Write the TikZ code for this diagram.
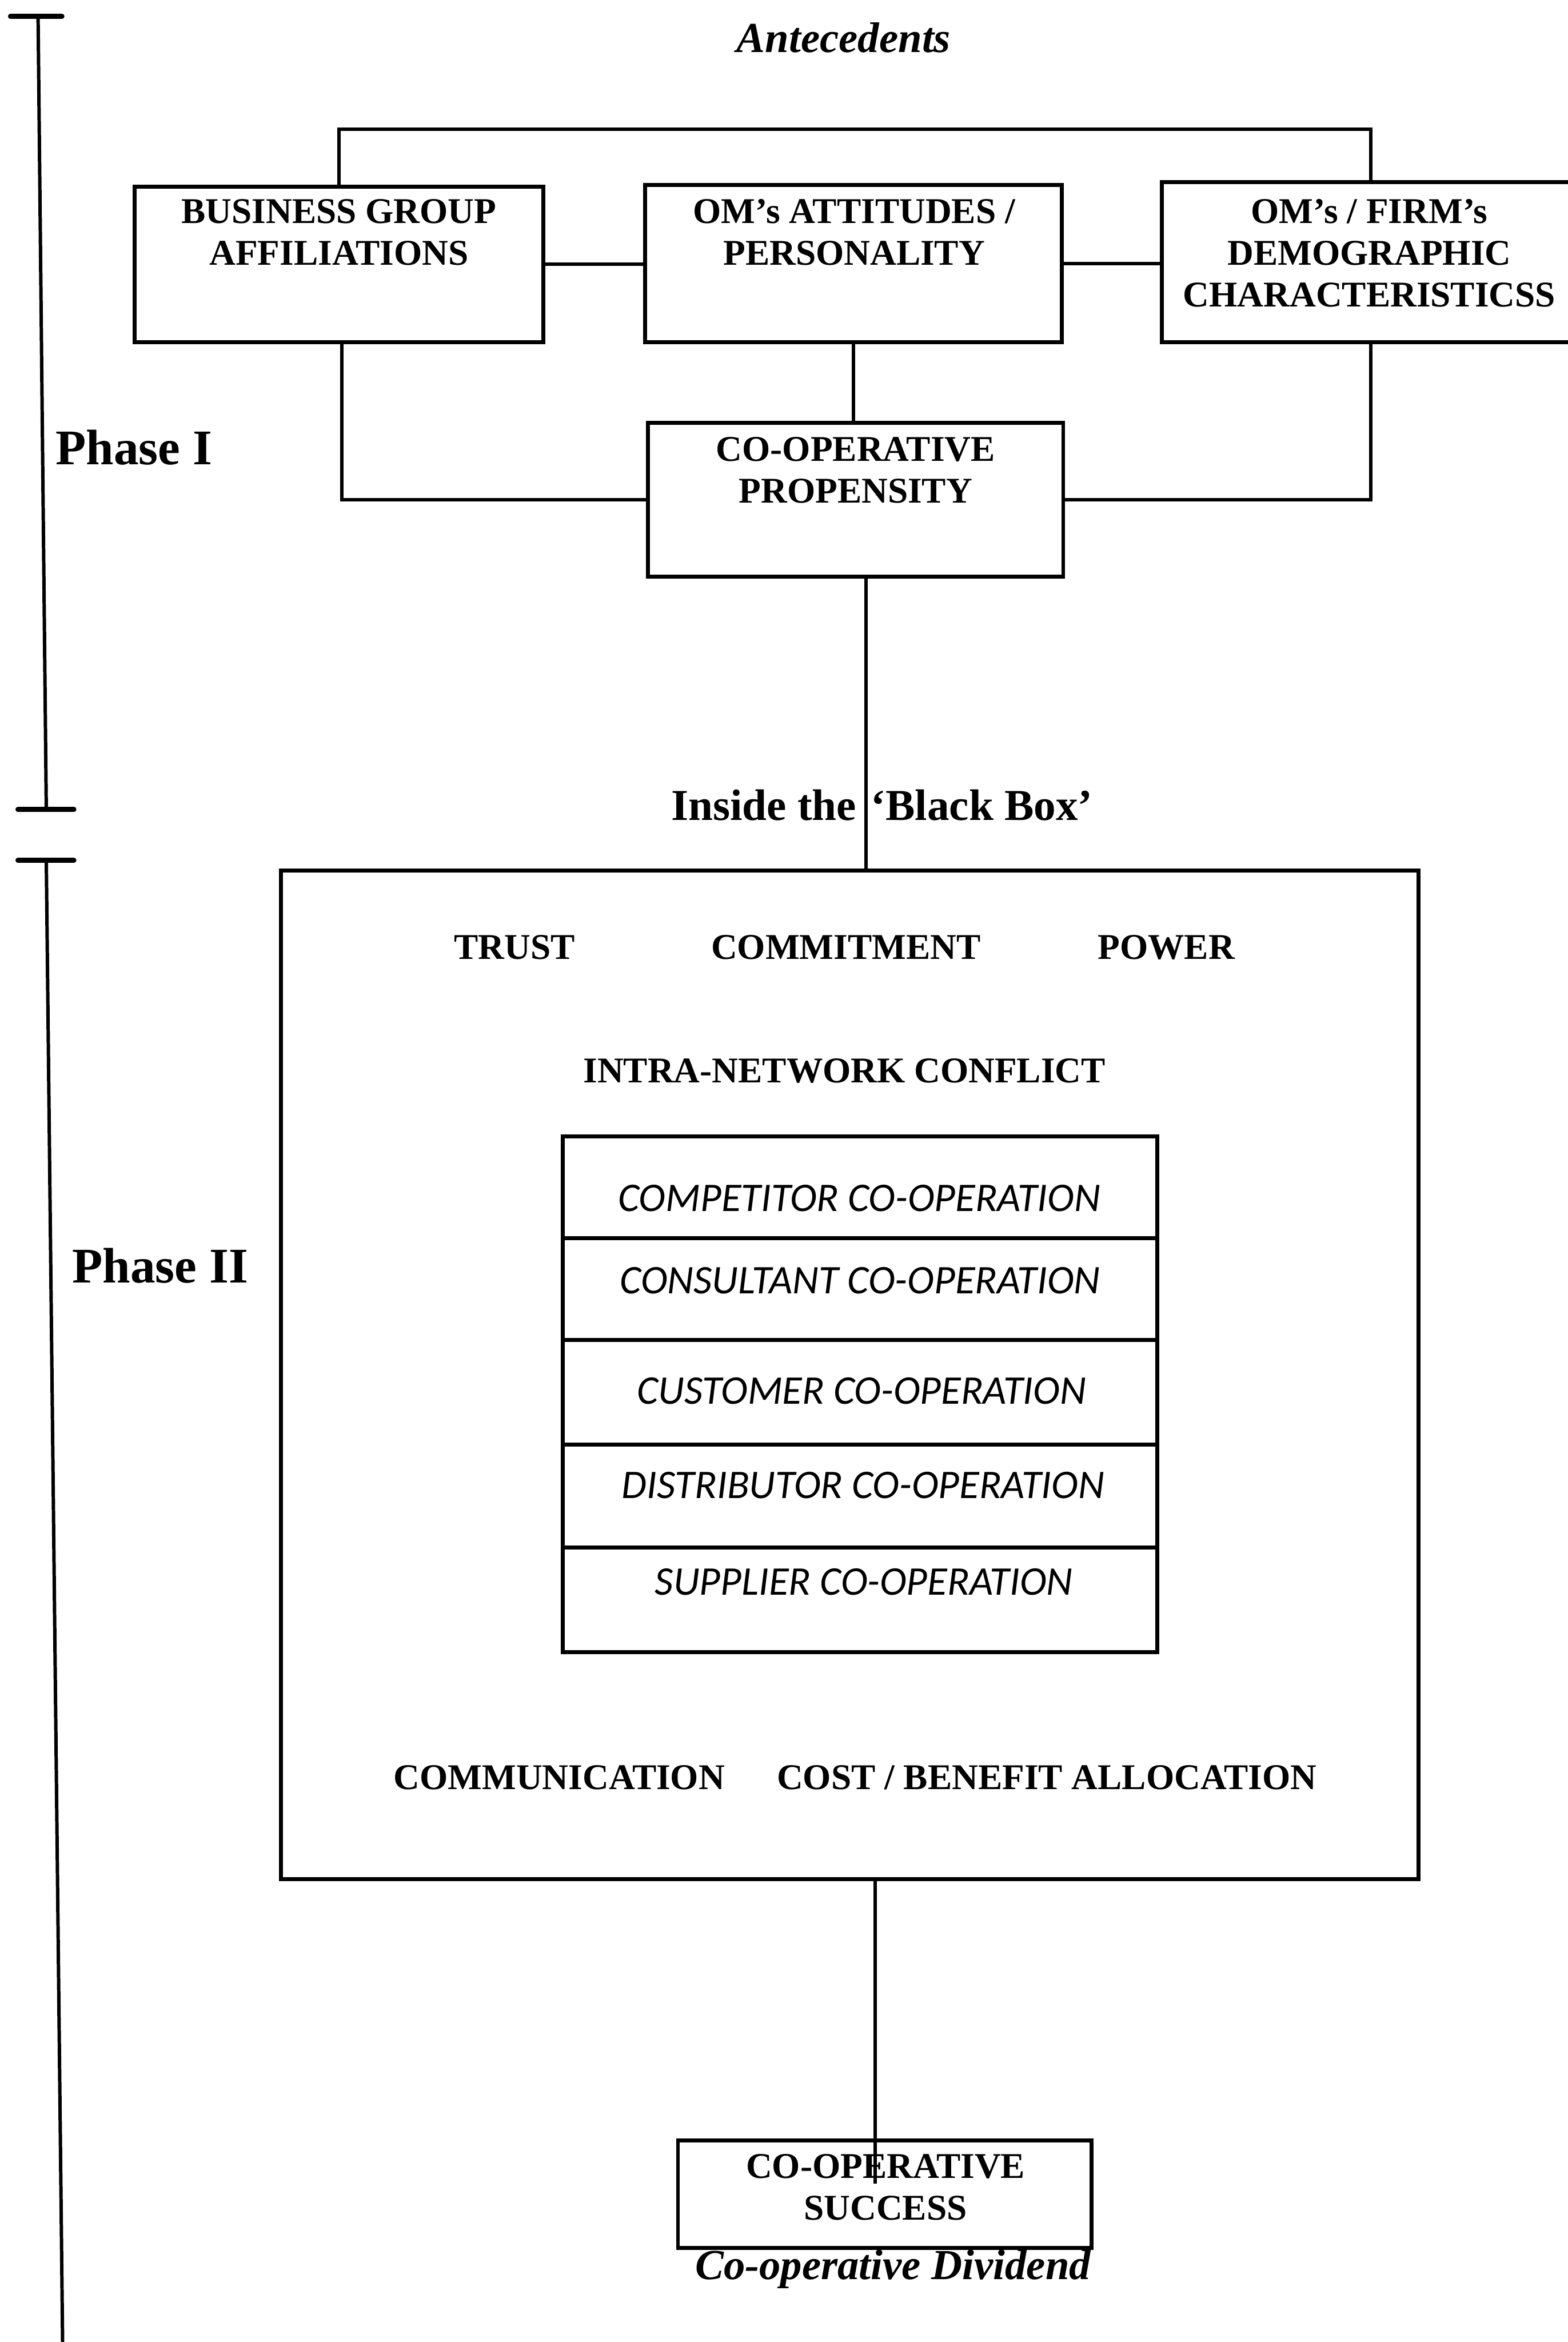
\documentclass[tikz,border=0pt]{standalone}
\usepackage{fontspec}
\setmainfont{Liberation Serif}
\newfontfamily\rowfont{Carlito}
\usetikzlibrary{calc}
\begin{document}
\begin{tikzpicture}[x=0.2mm,y=-0.2mm,
  box/.style={draw, line width=1.5pt, inner sep=0pt, rectangle},
  wire/.style={line width=1.3pt},
  bar/.style={line width=1.3pt},
  tickmark/.style={line width=1.9pt, line cap=round},
  boxtext/.style={inner sep=0pt, align=center, anchor=north,
    font=\fontsize{13.8}{15.9}\selectfont\bfseries},
  caps/.style={inner sep=0pt, anchor=base,
    font=\fontsize{13.8}{16}\selectfont\bfseries},
  heading/.style={inner sep=0pt, anchor=base,
    font=\fontsize{16.8}{19}\selectfont\bfseries},
  slanted/.style={inner sep=0pt, anchor=base,
    font=\fontsize{16.3}{18}\selectfont\bfseries\itshape},
  rowtext/.style={inner sep=0pt, anchor=base,
    font=\fontsize{15.5}{18}\selectfont\rowfont\itshape},
  phase/.style={inner sep=0pt, anchor=base west,
    font=\fontsize{19}{22}\selectfont\bfseries},
]
\useasboundingbox (0,0) rectangle (1050,1568);
\clip (0,0) rectangle (1050,1568);

% ---------- Phase I : antecedents ----------
\node[slanted] (ante) at (565,35) {Antecedents};

\node[box, minimum width=54.8mm, minimum height=20.8mm] (bga) at (227,177) {};
\node[box, minimum width=55.8mm, minimum height=21mm]   (oma) at (571.5,176.5) {};
\node[box, minimum width=56mm,   minimum height=21.4mm] (dem) at (918,175.5) {};
\node[box, minimum width=55.6mm, minimum height=20.6mm] (cp)  at (573,334.5) {};

\node[boxtext] (bgaT) at (227,133) {BUSINESS GROUP\\AFFILIATIONS};
\node[boxtext] (omaT) at (572,133) {OM's ATTITUDES /\\PERSONALITY};
\node[boxtext] (demT) at (917,133) {OM's / FIRM's\\DEMOGRAPHIC\\CHARACTERISTICSS};
\node[boxtext] (cpT)  at (573,292.5) {CO-OPERATIVE\\PROPENSITY};

% links between the antecedents
\draw[wire] (bga.north) -- ++(0,-37) -| (dem.north);
\draw[wire] (bga.east) -- (bga.east -| oma.west);
\draw[wire] (oma.east) -- (oma.east -| dem.west);
\draw[wire] (oma.south) -- (oma.south |- cp.north);
\draw[wire] ([xshift=0.4mm]bga.south) |- (cp.west);
\draw[wire] (dem.south) |- (cp.east);

% ---------- Phase II : inside the black box ----------
\node[heading] (insideT) at (511.5,549) {Inside the};
\node[heading] (blackT)  at (657.5,549) {`Black Box'};

\node[box, minimum width=152.4mm, minimum height=135mm] (bb) at (569,920.5) {};

\coordinate (cpout) at (580,386);
\draw[wire] (cp.south -| cpout) -- (cpout |- bb.north);

\node[caps] (trust)  at (344.5,642) {TRUST};
\node[caps] (commit) at (566.5,642) {COMMITMENT};
\node[caps] (power)  at (781,642)   {POWER};
\node[caps] (conflict) at (565.5,725) {INTRA-NETWORK CONFLICT};

% stack of co-operation types
\node[box, minimum width=79.6mm, minimum height=13.6mm] (r1) at (576,795)    {};
\node[box, minimum width=79.6mm, minimum height=13.6mm] (r2) at (576,863)    {};
\node[box, minimum width=79.6mm, minimum height=14mm]   (r3) at (576,932)    {};
\node[box, minimum width=79.6mm, minimum height=13.8mm] (r4) at (576,1001.5) {};
\node[box, minimum width=79.6mm, minimum height=14mm]   (r5) at (576,1071)   {};

\node[rowtext] (r1T) at (575.5,811) {COMPETITOR CO-OPERATION};
\node[rowtext] (r2T) at (576,866)   {CONSULTANT CO-OPERATION};
\node[rowtext] (r3T) at (577,940)   {CUSTOMER CO-OPERATION};
\node[rowtext] (r4T) at (578,1003)  {DISTRIBUTOR CO-OPERATION};
\node[rowtext] (r5T) at (578.5,1068){SUPPLIER CO-OPERATION};

\node[caps] (comm) at (374.5,1198) {COMMUNICATION};
\node[caps] (cost) at (701,1198)   {COST / BENEFIT ALLOCATION};

% outcome
\node[box, minimum width=55.4mm, minimum height=14.4mm] (cs) at (592.5,1469) {};
\node[boxtext] (csT) at (593,1442) {CO-OPERATIVE\\SUCCESS};
\coordinate (csin) at (586,1462);
\draw[wire] (csin |- bb.south) -- (csin);

\node[slanted] (dividend) at (598,1526) {Co-operative Dividend};

% ---------- phase brackets ----------
\coordinate (p1top) at (25.5,11);
\coordinate (p1bot) at (31,542);
\draw[bar] (p1top) -- (p1bot);
\draw[tickmark] ($(p1top)+(-18.5,0)$) -- ($(p1top)+(16,0)$);
\draw[tickmark] ($(p1bot)+(-19,0)$) -- ($(p1bot)+(18.5,0)$);
\node[phase] (ph1) at (37,311) {Phase I};

\coordinate (p2top) at (31,576);
\coordinate (p2bot) at (42,1575);
\draw[bar] (p2top) -- (p2bot);
\draw[tickmark] ($(p2top)+(-19,0)$) -- ($(p2top)+(18.5,0)$);
\node[phase] (ph2) at (48,859) {Phase II};
\end{tikzpicture}
\end{document}
